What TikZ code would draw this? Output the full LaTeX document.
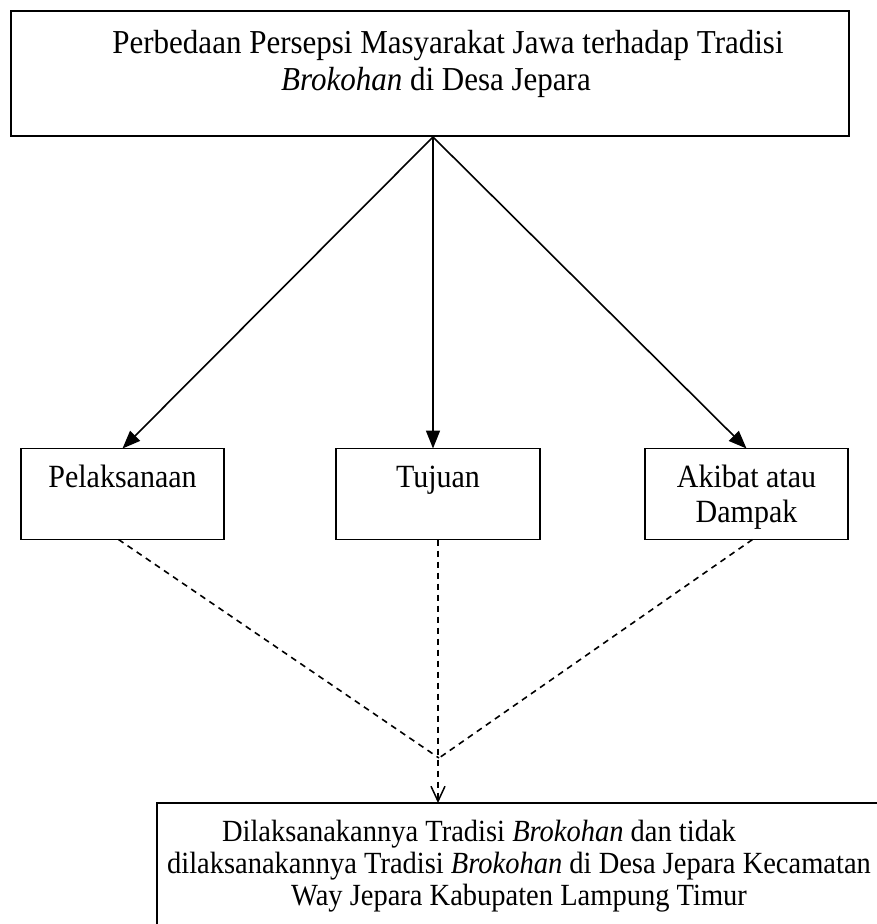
\documentclass[tikz,border=0pt]{standalone}
\usepackage{graphicx}
\usepackage{fontspec}
\setmainfont{Liberation Serif}
\usetikzlibrary{arrows.meta}
\newcommand{\talltext}[1]{\scalebox{1}[1.08]{\begin{tabular}{@{}c@{}}#1\end{tabular}}}
\begin{document}
\begin{tikzpicture}[x=1pt,y=-1pt,
  box/.style={draw,line width=1.7pt,inner sep=0pt,outer sep=0pt},
  txt/.style={font=\fontsize{30}{32.4}\selectfont,align=center,inner sep=0pt},
  toptxt/.style={font=\fontsize{31}{34.3}\selectfont,align=center,inner sep=0pt},
  bottxt/.style={font=\fontsize{28.5}{29.6}\selectfont,align=center,inner sep=0pt},
  solidarrow/.style={line width=1.6pt,-{Triangle[length=18pt,width=14pt]}},
  dashline/.style={line width=1.6pt,dash pattern=on 6pt off 5pt},
  openarrow/.style={line width=1.6pt,dash pattern=on 6pt off 5pt,-{Straight Barb[length=15pt,width=14pt,line width=1.5pt]}}
]
\useasboundingbox (0,0) rectangle (877,924);
% top box
\node[box,minimum width=838pt,minimum height=125pt] (T) at (430,73.5) {};
\node[toptxt] (Tt) at (436,64.6) {\talltext{\hspace*{24pt}Perbedaan Persepsi Masyarakat Jawa terhadap Tradisi\\\textit{Brokohan} di Desa Jepara}};
% middle boxes
\node[box,minimum width=203pt,minimum height=91pt] (P1) at (122.5,494) {};
\node[box,minimum width=204pt,minimum height=91pt] (P2) at (438,494) {};
\node[box,minimum width=203pt,minimum height=91pt] (P3) at (746.5,494) {};
\node[txt] (P1t) at (P1.center |- 0,480) {\talltext{Pelaksanaan}};
\node[txt] (P2t) at (P2.center |- 0,480) {\talltext{Tujuan}};
\node[txt] (P3t) at (P3.center |- 0,497.5) {\talltext{Akibat atau\\Dampak}};
% bottom box (clipped by page)
\begin{scope}
\clip (0,0) rectangle (877,924);
\node[box,anchor=north west,minimum width=760pt,minimum height=150pt] (B) at (157,803) {};
\end{scope}
\node[bottxt] (Bt) at (519,867) {\talltext{Dilaksanakannya Tradisi \textit{Brokohan} dan tidak\hspace*{80pt}\\dilaksanakannya Tradisi \textit{Brokohan} di Desa Jepara Kecamatan\\Way Jepara Kabupaten Lampung Timur}};
% connectors
\coordinate (apex) at (433,137);
\coordinate (J) at (439,758);
\draw[solidarrow] (apex) -- (P1.north);
\draw[solidarrow] (apex) -- (P2.north -| apex);
\draw[solidarrow] (apex) -- (P3.north);
\draw[dashline] ([xshift=-4pt]P1.south) -- (J);
\draw[dashline] ([xshift=6pt]P3.south) -- (J);
\draw[openarrow] (P2.south) -- (B.north -| P2.south);
\end{tikzpicture}
\end{document}
